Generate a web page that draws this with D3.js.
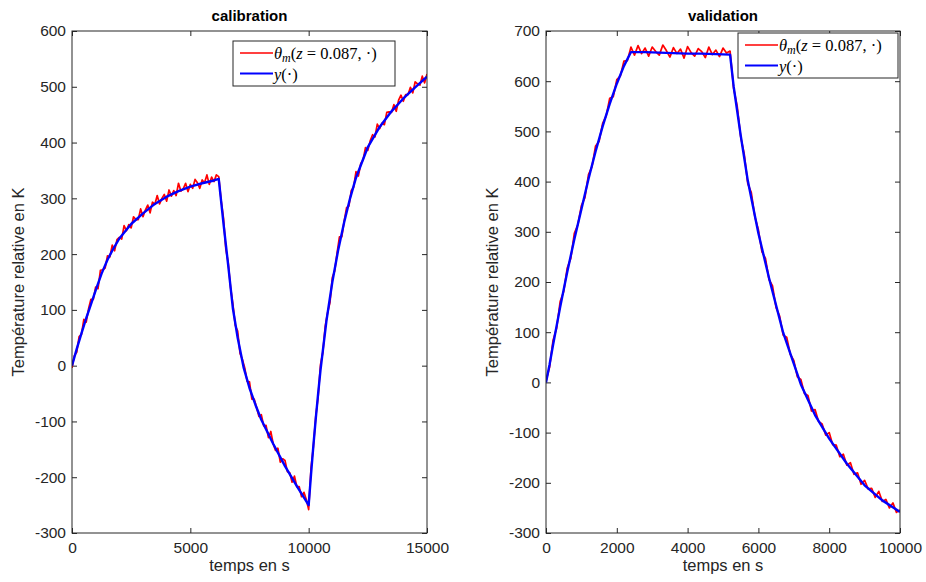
<!DOCTYPE html>
<html><head><meta charset="utf-8">
<script src="https://cdn.jsdelivr.net/npm/d3@7"></script>
<style>body{margin:0;background:#fff}svg{display:block}</style>
</head><body>
<svg id="c" width="926" height="582"></svg>
<script>
// ---------- DATA ----------
const titles = ["calibration", "validation"];
const xLabel = "temps en s";
const yLabel = "Température relative en K";

const calibXTicks = [0, 5000, 10000, 15000];
const calibYTicks = [-300, -200, -100, 0, 100, 200, 300, 400, 500, 600];
const valXTicks = [0, 2000, 4000, 6000, 8000, 10000];
const valYTicks = [-300, -200, -100, 0, 100, 200, 300, 400, 500, 600, 700];

// model output y(.)  (blue)
const calibModelT = [0,200,400,600,800,1000,1250,1500,1750,2000,2500,3000,3500,4000,4500,5000,5500,6000,6200,
  6400,6600,6800,7000,7250,7500,7750,8000,8500,9000,9500,10000,
  10100,10200,10300,10400,10500,10750,11000,11250,11500,11750,12000,12500,13000,13500,14000,14500,15000];
const calibModelY = [0,30,58,85,110,135,165,190,210,228,254,273,290,303,313,321,327,332,335,
  255,180,102,50,-3,-40,-70,-97,-140,-180,-216,-250,
  -195,-143,-95,-50,-8,80,150,208,257,300,337,392,428,456,479,499,518];

// measurement theta_m(z=0.087,.) (red), sampled every 100 s
const calibMeasStep = 100;
const calibMeasY = [-4,18,24,52,56,83,78,102,119,119,141,138,171,172,175,197,195,216,206,226,
  230,227,251,242,253,247,267,262,262,281,267,279,288,274,293,289,305,290,300,307,
  295,315,304,314,305,327,313,317,327,312,325,318,334,328,318,333,328,342,325,338,
  330,342,339,297,265,209,185,140,110,72,62,22,11,-4,-28,-29,-60,-60,-75,-91,
  -88,-108,-107,-129,-118,-140,-152,-148,-173,-167,-170,-190,-192,-209,-198,-217,-217,-235,-227,-240,
  -258,-183,-145,-91,-56,2,24,71,95,113,158,170,202,231,231,259,283,286,314,320,
  348,340,362,369,391,386,403,414,410,433,425,435,432,454,455,454,468,456,476,485,
  474,486,486,499,489,509,505,503,519,507,523];

const valModelT = [0,100,200,400,600,800,1000,1200,1400,1600,1800,2000,2200,2400,2800,3200,3600,4000,4400,4800,5200,
  5300,5500,5700,6000,6300,6700,7200,7600,8000,8500,9000,9500,10000];
const valModelY = [0,35,75,150,220,285,345,405,460,510,555,595,630,658,658,657,656,655,655,654,653,
  590,492,402,297,208,99,-4,-65,-112,-162,-205,-235,-258];

const valMeasStep = 100;
const valMeasY = [2,30,84,108,161,181,228,247,297,314,352,368,414,430,471,480,516,531,566,569,
  603,610,640,641,668,652,671,655,666,650,668,659,652,672,661,648,667,655,664,646,
  669,657,650,665,659,647,668,653,662,649,666,656,660,586,551,489,455,396,378,330,
  304,260,247,205,192,149,132,94,90,56,44,11,6,-22,-26,-57,-54,-78,-83,-105,
  -100,-124,-125,-148,-143,-165,-160,-183,-180,-203,-195,-212,-211,-229,-217,-237,-233,-250,-240,-259,
  -254];

// ---------- DRAW ----------
const svg = d3.select("#c");
const sans = "'Liberation Sans', Arial, Helvetica, sans-serif";
const serif = "'Liberation Serif', 'DejaVu Serif', serif";
const axCol = "#262626";

function panel(cfg) {
  const x = d3.scaleLinear().domain(cfg.xDomain).range([cfg.x0, cfg.x1]);
  const y = d3.scaleLinear().domain(cfg.yDomain).range([cfg.y1, cfg.y0]);
  const g = svg.append("g");

  const clipId = "clip" + cfg.id;
  svg.append("clipPath").attr("id", clipId).append("rect")
    .attr("x", cfg.x0).attr("y", cfg.y0).attr("width", cfg.x1 - cfg.x0).attr("height", cfg.y1 - cfg.y0);

  const fmt = d => String(d);
  const bottom = g.append("g").attr("transform", `translate(0,${cfg.y1})`)
    .call(d3.axisBottom(x).tickValues(cfg.xTicks).tickFormat(fmt).tickSizeInner(-5).tickSizeOuter(0).tickPadding(6));
  const left = g.append("g").attr("transform", `translate(${cfg.x0},0)`)
    .call(d3.axisLeft(y).tickValues(cfg.yTicks).tickFormat(fmt).tickSizeInner(-5).tickSizeOuter(0).tickPadding(6));
  const top = g.append("g").attr("transform", `translate(0,${cfg.y0})`)
    .call(d3.axisTop(x).tickValues(cfg.xTicks).tickFormat("").tickSizeInner(-5).tickSizeOuter(0));
  const right = g.append("g").attr("transform", `translate(${cfg.x1},0)`)
    .call(d3.axisRight(y).tickValues(cfg.yTicks).tickFormat("").tickSizeInner(-5).tickSizeOuter(0));
  [bottom, left, top, right].forEach(a => {
    a.select(".domain").remove();
    a.selectAll("line").attr("stroke", axCol);
    a.selectAll("text").attr("fill", axCol).style("font-family", sans).style("font-size", "15.5px");
  });
  bottom.selectAll("text").attr("dy", "0.9em");

  const line = d3.line().x(d => x(d[0])).y(d => y(d[1]));
  const meas = cfg.measY.map((v, i) => [i * cfg.measStep, v]);
  const model = cfg.modelT.map((t, i) => [t, cfg.modelY[i]]);
  const plot = g.append("g").attr("clip-path", `url(#${clipId})`);
  plot.append("path").datum(meas).attr("d", line).attr("fill", "none")
    .attr("stroke", "#ff0000").attr("stroke-width", 1.7).attr("stroke-linejoin", "round");
  plot.append("path").datum(model).attr("d", line).attr("fill", "none")
    .attr("stroke", "#0000ff").attr("stroke-width", 2.4).attr("stroke-linejoin", "round");

  g.append("rect").attr("x", cfg.x0).attr("y", cfg.y0).attr("width", cfg.x1 - cfg.x0).attr("height", cfg.y1 - cfg.y0)
    .attr("fill", "none").attr("stroke", axCol).attr("stroke-width", 1);

  g.append("text").attr("x", (cfg.x0 + cfg.x1) / 2).attr("y", 21).attr("text-anchor", "middle")
    .style("font-family", sans).style("font-size", "15px").style("font-weight", "bold").attr("fill", "#000")
    .text(cfg.title);
  g.append("text").attr("x", (cfg.x0 + cfg.x1) / 2).attr("y", 571).attr("text-anchor", "middle")
    .style("font-family", sans).style("font-size", "16.5px").attr("fill", axCol).text(xLabel);
  g.append("text").attr("transform", `translate(${cfg.ylabX},${(cfg.y0 + cfg.y1) / 2}) rotate(-90)`)
    .attr("text-anchor", "middle").style("font-family", sans).style("font-size", "16.5px").attr("fill", axCol)
    .text(yLabel);

  const L = cfg.legend;
  const lg = g.append("g");
  lg.append("rect").attr("x", L.x).attr("y", L.y).attr("width", L.w).attr("height", L.h)
    .attr("fill", "#fff").attr("stroke", axCol).attr("stroke-width", 1);
  const rows = [{c: "#ff0000", dy: 12}, {c: "#0000ff", dy: 32.5}];
  rows.forEach((r, i) => {
    lg.append("line").attr("x1", L.x + 7).attr("x2", L.x + 40).attr("y1", L.y + r.dy).attr("y2", L.y + r.dy)
      .attr("stroke", r.c).attr("stroke-width", i === 0 ? 1.5 : 2);
  });
  const t1 = lg.append("text").attr("x", L.x + 41).attr("y", L.y + 17.5).style("font-family", serif)
    .style("font-size", "16.5px").attr("fill", "#000");
  t1.append("tspan").style("font-style", "italic").text("θ");
  t1.append("tspan").style("font-style", "italic").style("font-size", "12px").attr("dy", 3).text("m");
  t1.append("tspan").attr("dy", -3).text("(");
  t1.append("tspan").style("font-style", "italic").text("z");
  t1.append("tspan").text(" = 0.087, ·)");
  const t2 = lg.append("text").attr("x", L.x + 41).attr("y", L.y + 38.5).style("font-family", serif)
    .style("font-size", "16.5px").attr("fill", "#000");
  t2.append("tspan").style("font-style", "italic").text("y");
  t2.append("tspan").text("(·)");
}

panel({
  id: 0, title: titles[0], x0: 72, x1: 427, y0: 31, y1: 533, ylabX: 24,
  xDomain: [0, 15000], yDomain: [-300, 600], xTicks: calibXTicks, yTicks: calibYTicks,
  modelT: calibModelT, modelY: calibModelY, measY: calibMeasY, measStep: calibMeasStep,
  legend: {x: 233, y: 41, w: 162, h: 45}
});
panel({
  id: 1, title: titles[1], x0: 546, x1: 900, y0: 31, y1: 533, ylabX: 498,
  xDomain: [0, 10000], yDomain: [-300, 700], xTicks: valXTicks, yTicks: valYTicks,
  modelT: valModelT, modelY: valModelY, measY: valMeasY, measStep: valMeasStep,
  legend: {x: 738, y: 33, w: 160, h: 45}
});
</script>
</body></html>
